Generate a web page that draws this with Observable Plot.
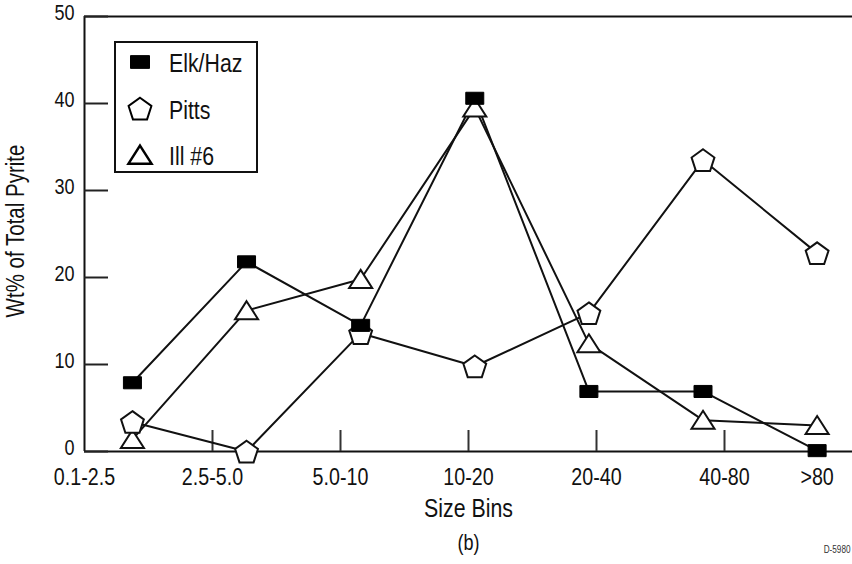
<!DOCTYPE html>
<html>
<head>
<meta charset="utf-8">
<script src="https://cdn.jsdelivr.net/npm/d3@7"></script>
<script src="https://cdn.jsdelivr.net/npm/@observablehq/plot@0.6"></script>
<style>
  html, body { margin: 0; padding: 0; background: white; }
</style>
</head>
<body>
<div id="chart"></div>
<script>
// ---- data ----
const categories = ["0.1-2.5", "2.5-5.0", "5.0-10", "10-20", "20-40", "40-80", ">80"];
const seriesNames = ["Elk/Haz", "Pitts", "Ill #6"];
const elkHaz = [7.9, 21.8, 14.5, 40.6, 6.9, 6.9, 0.1];
const pitts  = [3.4, 0.0, 13.6, 9.8, 15.9, 33.5, 22.8];
const ill6   = [1.4, 16.2, 19.8, 39.5, 12.4, 3.6, 3.0];
const yTicks = [0, 10, 20, 30, 40, 50];
const yLabel = "Wt% of Total Pyrite";
const xLabel = "Size Bins";
const panelLabel = "(b)";
const figCode = "D-5980";

// ---- table ----
const valuesBySeries = { "Elk/Haz": elkHaz, "Pitts": pitts, "Ill #6": ill6 };
const table = seriesNames.flatMap(s => valuesBySeries[s].map((v, i) => ({ series: s, i, value: v })));

// ---- symbols ----
const rectSym = { draw(ctx, size) { const r = Math.sqrt(size / Math.PI); const w = r, h = r * 0.67;
  ctx.moveTo(-w, -h); ctx.lineTo(w, -h); ctx.lineTo(w, h); ctx.lineTo(-w, h); ctx.closePath(); } };
const pentSym = { draw(ctx, size) { const r = Math.sqrt(size / Math.PI);
  for (let k = 0; k < 5; k++) { const a = -Math.PI / 2 + k * 2 * Math.PI / 5; const x = r * Math.cos(a), y = r * Math.sin(a) + r * 0.1;
    if (k === 0) ctx.moveTo(x, y); else ctx.lineTo(x, y); } ctx.closePath(); } };
const triSym = { draw(ctx, size) { const r = Math.sqrt(size / Math.PI);
  ctx.moveTo(0, -0.78 * r); ctx.lineTo(0.96 * r, 0.72 * r); ctx.lineTo(-0.96 * r, 0.72 * r); ctx.closePath(); } };

const FONT = "'Liberation Sans', Arial, Helvetica, sans-serif";
const CONDENSE = 0.82; // the original lettering is a condensed sans

// x scale in category-index units
const xDomain = [-0.42, 6.31];
const boundaries = d3.range(6).map(k => xDomain[0] + k * (xDomain[1] - xDomain[0]) / 6);
const labelPos = categories.map((c, k) => ({ label: c, x: k < 6 ? boundaries[k] : k }));

const plot = Plot.plot({
  width: 852,
  height: 564,
  marginLeft: 84,
  marginRight: 0,
  marginTop: 16,
  marginBottom: 113,
  x: { domain: xDomain },
  y: { domain: [0, 50] },
  style: { fontFamily: FONT, background: "white", color: "#111", overflow: "visible" },
  marks: [
    // frame lines
    Plot.ruleY([0, 50], { stroke: "#111", strokeWidth: 2 }),
    Plot.ruleX([xDomain[0]], { stroke: "#111", strokeWidth: 2 }),
    // inward ticks
    Plot.axisX(boundaries.slice(1), { tickSize: 21, dy: -21, tickFormat: () => "", label: null, strokeWidth: 2, stroke: "#333" }),
    Plot.axisY(yTicks, { tickSize: 24, dx: 24, tickFormat: () => "", label: null, strokeWidth: 2, stroke: "#222" }),
    // y tick labels
    Plot.text(yTicks, { y: d => d, text: d => String(d), frameAnchor: "left", textAnchor: "end", lineAnchor: "middle", dx: -10, dy: 3, fontSize: 22, fill: "#111" }),
    // x tick labels
    Plot.text(labelPos, { x: "x", text: "label", frameAnchor: "bottom", textAnchor: "middle", lineAnchor: "middle", dy: 33.5, fontSize: 24, fill: "#111" }),
    // axis titles
    Plot.text([yLabel], { frameAnchor: "left", textAnchor: "middle", lineAnchor: "middle", rotate: -90, dx: -61, dy: -3, fontSize: 25, fill: "#111" }),
    Plot.text([xLabel], { frameAnchor: "bottom", textAnchor: "middle", lineAnchor: "middle", dy: 65.5, fontSize: 26, fill: "#111" }),
    Plot.text([panelLabel], { frameAnchor: "bottom", textAnchor: "middle", lineAnchor: "middle", dy: 98, fontSize: 22, fill: "#111" }),
    Plot.text([figCode], { frameAnchor: "bottom-right", textAnchor: "end", lineAnchor: "middle", dx: -2, dy: 101, fontSize: 10, fill: "#333" }),
    // series lines
    Plot.line(table, { x: "i", y: "value", z: "series", stroke: "#111", strokeWidth: 2 }),
    // markers
    Plot.dot(table.filter(d => d.series === "Ill #6"), { x: "i", y: "value", symbol: triSym, r: 12, fill: "white", stroke: "#111", strokeWidth: 2 }),
    Plot.dot(table.filter(d => d.series === "Pitts"), { x: "i", y: "value", symbol: pentSym, r: 12, fill: "white", stroke: "#111", strokeWidth: 2 }),
    Plot.dot(table.filter(d => d.series === "Elk/Haz"), { x: "i", y: "value", symbol: rectSym, r: 9, fill: "#000", stroke: "#000", strokeWidth: 1 })
  ]
});

document.getElementById("chart").appendChild(plot);

// ---- legend (drawn inside the plot's svg) ----
const svg = d3.select(plot);
const lg = svg.append("g").attr("font-family", FONT).attr("text-anchor", "start");
lg.append("rect").attr("x", 115).attr("y", 42).attr("width", 142).attr("height", 130)
  .attr("fill", "white").attr("stroke", "#111").attr("stroke-width", 2);
const legendSyms = [
  { sym: rectSym, r: 9.5, fill: "#000", sw: 1 },
  { sym: pentSym, r: 12, fill: "white", sw: 2 },
  { sym: triSym, r: 12, fill: "white", sw: 2.5 }
];
seriesNames.forEach((name, k) => {
  const cy = 62 + k * 46.5;
  const p = d3.path();
  legendSyms[k].sym.draw(p, legendSyms[k].r ** 2 * Math.PI);
  lg.append("path").attr("d", p.toString()).attr("transform", `translate(140,${cy})`)
    .attr("fill", legendSyms[k].fill).attr("stroke", "#000").attr("stroke-width", legendSyms[k].sw);
  lg.append("text").attr("transform", `translate(169,${cy + 1})`).attr("dy", "0.35em")
    .attr("font-size", 26).attr("fill", "#111").text(name);
});

// ---- condense all lettering horizontally around each text's anchor ----
svg.selectAll("text").each(function () {
  const t = d3.select(this);
  let tr = t.attr("transform") || "";
  const x = t.attr("x"), y = t.attr("y");
  if (x != null || y != null) {
    tr += ` translate(${+x || 0},${+y || 0})`;
    t.attr("x", null).attr("y", null);
  }
  t.attr("transform", `${tr} scale(${CONDENSE},1)`);
});
</script>
</body>
</html>
